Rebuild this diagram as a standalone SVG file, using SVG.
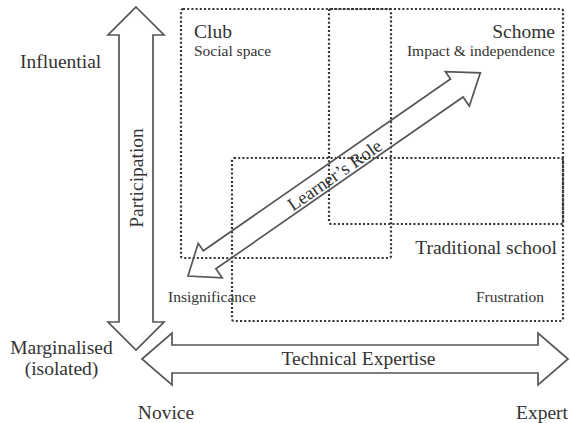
<svg xmlns="http://www.w3.org/2000/svg" width="570" height="423" viewBox="0 0 570 423">
<style>
.bg{fill:#ffffff}
.box{fill:none;stroke:#333;stroke-width:2.2;stroke-dasharray:2 2.2}
.arrow{fill:none;stroke:#555;stroke-width:1.7;stroke-linejoin:miter}
text{font-family:"Liberation Serif","Times New Roman",serif;fill:#333}
.big{font-size:19.5px}
.small{font-size:15.5px}
</style>
<rect class="bg" x="0" y="0" width="570" height="423"/>
<g id="club">
<rect class="box" x="181" y="9" width="210" height="249" rx="2"/>
<text class="big" x="194" y="38">Club</text>
<text class="small" x="194" y="56">Social space</text>
</g>
<g id="schome">
<rect class="box" x="329" y="9" width="234" height="215" rx="2"/>
<text class="big" x="555" y="38" text-anchor="end">Schome</text>
<text class="small" x="555" y="56" text-anchor="end">Impact &amp; independence</text>
</g>
<g id="traditional">
<rect class="box" x="232" y="158" width="331" height="163" rx="2"/>
<text class="big" x="557" y="254" text-anchor="end">Traditional school</text>
<text class="small" x="544" y="302" text-anchor="end">Frustration</text>
</g>
<g id="insignificance">
<text class="small" x="168" y="302">Insignificance</text>
</g>
<g id="connectors">
<g id="participation">
<polygon class="arrow" points="136,7 164,35 153,35 153,322 164,322 136,350 108,322 119,322 119,35 108,35"/>
<text class="big" transform="translate(143,178) rotate(-90)" x="0" y="0" text-anchor="middle">Participation</text>
</g>
<g id="expertise">
<polygon class="arrow" points="142,359 172,333 172,345 538,345 538,333 568,359 538,385 538,373 172,373 172,385"/>
<text class="big" x="358.5" y="365" text-anchor="middle">Technical Expertise</text>
</g>
<g id="learners-role" transform="translate(188,276) rotate(-34.8)">
<polygon class="arrow" points="0,0 27,-21 27,-12 328,-12 328,-21 356,0 328,21 328,10 27,10 27,21"/>
<text x="178" y="7" text-anchor="middle" style="font-size:18.5px">Learner’s Role</text>
</g>
</g>
<g id="axis-labels">
<text class="big" x="20" y="68">Influential</text>
<text class="big" x="61.5" y="354" text-anchor="middle">Marginalised</text>
<text class="big" x="61.5" y="375" text-anchor="middle">(isolated)</text>
<text class="big" x="166" y="419" text-anchor="middle">Novice</text>
<text class="big" x="568" y="419" text-anchor="end">Expert</text>
</g>
</svg>
